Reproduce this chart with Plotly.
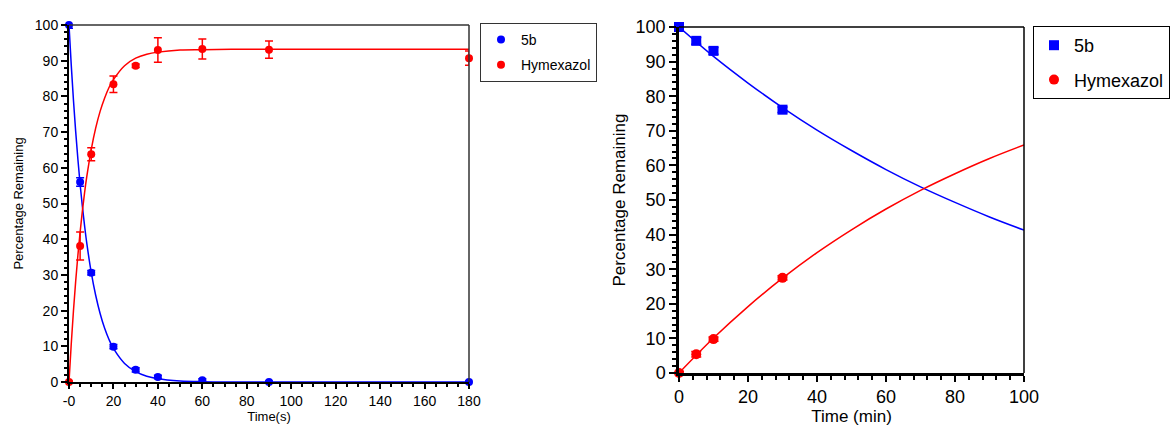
import plotly.graph_objects as go

# ---------------- Left panel data (time in s) ----------------
t_left = [0, 5, 10, 20, 30, 40, 60, 90, 180]
b5_left = [100, 56.0, 30.6, 9.9, 3.4, 1.4, 0.5, 0.0, 0.0]
b5_left_err = [0.9, 1.2, 0.6, 0.6, 0.6, 0.5, 0.4, 0.3, 0.3]
hym_left = [0, 38.1, 63.8, 83.4, 88.6, 93.0, 93.3, 93.1, 90.7]
hym_left_err = [0.3, 3.9, 1.8, 2.3, 0.5, 3.4, 2.8, 2.4, 2.0]

# fitted curves
fit_t_left = [0, 1, 2, 3, 4, 5, 6, 7, 8, 10, 12, 14, 16, 18, 20, 25, 30, 35, 40, 50, 60, 80, 100, 180]
fit_b5_left = [100, 88.9, 79.0, 70.2, 62.4, 55.4, 49.3, 43.8, 38.9, 30.7, 24.3, 19.2, 15.1, 11.9,
               9.4, 5.2, 2.9, 1.6, 0.9, 0.3, 0.1, 0.0, 0.0, 0.0]
fit_hym_left = [0, 10.5, 19.9, 28.2, 35.5, 42.0, 47.8, 53.0, 57.5, 65.1, 71.1, 75.8, 79.5, 82.5,
                84.7, 88.6, 90.7, 91.8, 92.4, 93.0, 93.1, 93.2, 93.2, 93.2]

# ---------------- Right panel data (time in min) ----------------
t_right = [0, 5, 10, 30]
b5_right = [100, 96.0, 93.1, 76.1]
b5_right_err = [1.2, 1.0, 1.0, 0.8]
hym_right = [0, 5.4, 9.8, 27.5]
hym_right_err = [0.5, 0.8, 0.6, 0.6]

fit_t_right = [0, 10, 20, 30, 40, 50, 60, 70, 80, 90, 100]
fit_b5_right = [100, 91.5, 83.8, 76.7, 70.2, 64.3, 58.8, 53.8, 49.3, 45.1, 41.3]
fit_hym_right = [0, 10.1, 19.2, 27.4, 34.8, 41.4, 47.4, 52.8, 57.6, 62.0, 65.9]

left_xticks = [0, 20, 40, 60, 80, 100, 120, 140, 160, 180]
left_xticktext = ["-0", "20", "40", "60", "80", "100", "120", "140", "160", "180"]

BLUE = "#0000ff"
RED = "#ff0000"
FONT = "Liberation Sans, Arial, Helvetica, sans-serif"

fig = go.Figure()

# left fits
fig.add_trace(go.Scatter(x=fit_t_left, y=fit_b5_left, mode="lines", line=dict(color=BLUE, width=1.5, shape="spline"),
                         showlegend=False, xaxis="x", yaxis="y", cliponaxis=False, hoverinfo="skip"))
fig.add_trace(go.Scatter(x=fit_t_left, y=fit_hym_left, mode="lines", line=dict(color=RED, width=1.5, shape="spline"),
                         showlegend=False, xaxis="x", yaxis="y", cliponaxis=False, hoverinfo="skip"))
# left points
fig.add_trace(go.Scatter(x=t_left, y=b5_left, mode="markers", name="5b",
                         marker=dict(color=BLUE, size=8, symbol="circle"),
                         error_y=dict(type="data", array=b5_left_err, color=BLUE, thickness=1.5, width=4),
                         xaxis="x", yaxis="y", cliponaxis=False, legend="legend", legendgroup="a"))
fig.add_trace(go.Scatter(x=t_left, y=hym_left, mode="markers", name="Hymexazol",
                         marker=dict(color=RED, size=8, symbol="circle"),
                         error_y=dict(type="data", array=hym_left_err, color=RED, thickness=1.5, width=4),
                         xaxis="x", yaxis="y", cliponaxis=False, legend="legend", legendgroup="b"))

# right fits
fig.add_trace(go.Scatter(x=fit_t_right, y=fit_b5_right, mode="lines", line=dict(color=BLUE, width=1.5, shape="spline"),
                         showlegend=False, xaxis="x2", yaxis="y2", cliponaxis=False, hoverinfo="skip"))
fig.add_trace(go.Scatter(x=fit_t_right, y=fit_hym_right, mode="lines", line=dict(color=RED, width=1.5, shape="spline"),
                         showlegend=False, xaxis="x2", yaxis="y2", cliponaxis=False, hoverinfo="skip"))
# right points
fig.add_trace(go.Scatter(x=t_right, y=b5_right, mode="markers", name="5b",
                         marker=dict(color=BLUE, size=10, symbol="square"),
                         error_y=dict(type="data", array=b5_right_err, color=BLUE, thickness=1.5, width=5),
                         xaxis="x2", yaxis="y2", cliponaxis=False, legend="legend2", legendgroup="c"))
fig.add_trace(go.Scatter(x=t_right, y=hym_right, mode="markers", name="Hymexazol",
                         marker=dict(color=RED, size=10, symbol="circle"),
                         error_y=dict(type="data", array=hym_right_err, color=RED, thickness=1.5, width=5),
                         xaxis="x2", yaxis="y2", cliponaxis=False, legend="legend2", legendgroup="d"))

W, H = 1173, 427
def px(xp):
    return xp / W
def py(yp):
    return 1 - yp / H

axis_common = dict(showgrid=False, zeroline=False, showline=True, linecolor="black", automargin=False,
                   ticks="outside", tickcolor="black", color="black")

fig.update_layout(
    template="none",
    width=W, height=H,
    margin=dict(l=0, r=0, t=0, b=0, autoexpand=False),
    paper_bgcolor="white", plot_bgcolor="white",
    font=dict(family=FONT, color="black"),
    xaxis=dict(domain=[px(69), px(469)], range=[0, 180], anchor="y",
               tickvals=left_xticks, ticktext=left_xticktext, ticklen=5, tickwidth=1.5, linewidth=2,
               tickfont=dict(size=14), title=dict(text="Time(s)", font=dict(size=13), standoff=2),
               minor=dict(dtick=5, tick0=0, ticks="outside", ticklen=3, tickcolor="black"),
               **axis_common),
    yaxis=dict(domain=[py(382), py(25)], range=[0, 100], anchor="x",
               dtick=10, ticklen=6, tickwidth=1.5, linewidth=2,
               tickfont=dict(size=14), title=dict(text="Percentage Remaining", font=dict(size=13), standoff=8),
               minor=dict(dtick=2, tick0=0, ticks="outside", ticklen=3, tickcolor="black"),
               **axis_common),
    xaxis2=dict(domain=[px(679), px(1024)], range=[0, 100], anchor="y2",
                dtick=20, ticklen=6, tickwidth=1.5, linewidth=2.5,
                tickfont=dict(size=18), title=dict(text="Time (min)", font=dict(size=17), standoff=0),
                minor=dict(dtick=4, tick0=0, ticks="outside", ticklen=4, tickcolor="black"),
                **axis_common),
    yaxis2=dict(domain=[py(373), py(27)], range=[0, 100], anchor="x2",
                dtick=10, ticklen=7, tickwidth=1.5, linewidth=2.5,
                tickfont=dict(size=18), title=dict(text="Percentage Remaining", font=dict(size=17), standoff=6),
                minor=dict(dtick=2, tick0=0, ticks="outside", ticklen=4, tickcolor="black"),
                **axis_common),
    legend=dict(x=px(480), y=py(23), xanchor="left", yanchor="top",
                bordercolor="#333333", borderwidth=1, bgcolor="white",
                font=dict(size=14), tracegroupgap=4),
    legend2=dict(x=px(1033), y=py(26), xanchor="left", yanchor="top",
                 bordercolor="black", borderwidth=1, bgcolor="white",
                 font=dict(size=18), tracegroupgap=8),
    showlegend=True,
    shapes=[
        dict(type="line", xref="x domain", yref="y domain", x0=0, x1=1, y0=1, y1=1,
             line=dict(color="#333333", width=1.5)),
        dict(type="line", xref="x domain", yref="y domain", x0=1, x1=1, y0=0, y1=1,
             line=dict(color="#333333", width=1.5)),
        dict(type="line", xref="x2 domain", yref="y2 domain", x0=0, x1=1, y0=1, y1=1,
             line=dict(color="black", width=1.5)),
        dict(type="line", xref="x2 domain", yref="y2 domain", x0=1, x1=1, y0=0, y1=1,
             line=dict(color="black", width=1.5)),
    ],
)

fig.write_html("out.html", config={"displayModeBar": False},
               post_script="document.body.style.margin='0';document.body.style.overflow='hidden';")
